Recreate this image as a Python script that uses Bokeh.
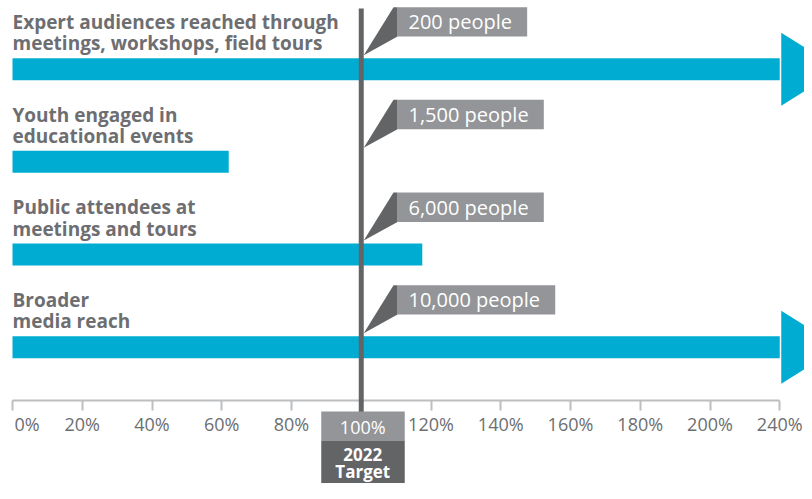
from bokeh.plotting import figure
from bokeh.models import Range1d, FixedTicker
from bokeh.embed import file_html
from bokeh.resources import INLINE
from bokeh.core.properties import value

# ---------------- data ----------------
categories = [
    "Expert audiences reached through\nmeetings, workshops, field tours",
    "Youth engaged in\neducational events",
    "Public attendees at\nmeetings and tours",
    "Broader\nmedia reach",
]
# percent of 2022 target reached, in axis units (the axis end, labelled 240%, sits at 220)
reach_pct = [220, 62, 117.5, 220]
beyond_axis = [True, False, False, True]
target_labels = ["200 people", "1,500 people", "6,000 people", "10,000 people"]
tick_values = [0, 20, 40, 60, 80, 100, 120, 140, 160, 180, 200, 220]
tick_texts = ["0%", "20%", "40%", "60%", "80%", "100%", "120%", "140%",
              "160%", "180%", "200%", "240%"]
target_pct = 100
target_title = ["2022", "Target"]

# ---------------- layout constants ----------------
W, H = 804, 483
PX_PER_PCT = 3.4875
X0_PX = 12.0
ROW_PX = 92.67
ROW0_PX = 68.7
TS = 5.5  # text baseline correction (px)

def dx(px):
    return px / PX_PER_PCT

def dy(px):
    return px / ROW_PX

def ypx(px):
    return (px - ROW0_PX) / ROW_PX

BAR = "#00acd1"
GREY_TXT = "#6d6e71"
BOX_LIGHT = "#939598"
BOX_DARK = "#636466"
FONT = "Open Sans"

p = figure(width=W, height=H, output_backend="svg", toolbar_location=None,
           x_range=Range1d(-dx(X0_PX), dx(W - X0_PX)),
           y_range=Range1d(ypx(H), ypx(0)),
           min_border=0, min_border_left=0, min_border_right=0,
           min_border_top=0, min_border_bottom=0)
p.outline_line_color = None
p.grid.visible = False
p.yaxis.visible = False
p.background_fill_color = "white"
p.border_fill_color = "white"

rows = list(range(len(categories)))

# bars
p.hbar(y=rows, left=0, right=reach_pct, height=dy(22), color=BAR, line_color=None)

# arrow heads for values beyond the axis
hx, hy = [], []
for r, v, b in zip(rows, reach_pct, beyond_axis):
    if b:
        hx.append([v + dx(1.5), v + dx(1.5), v + dx(60)])
        hy.append([r - dy(36.5), r + dy(36.5), r])
p.patches(hx, hy, color=BAR, line_color=None)

# category labels (two lines)
for r, c in zip(rows, categories):
    lines = c.split("\n")
    p.text(x=[0], y=[r - dy(41.8 + TS)], text=[lines[0]], text_font=value(FONT),
           text_font_style="bold", text_font_size="19px", text_color=GREY_TXT,
           text_baseline="alphabetic", text_align="left")
    if len(lines) > 1:
        p.text(x=[0], y=[r - dy(20.4 + TS)], text=[lines[1]], text_font=value(FONT),
               text_font_style="bold", text_font_size="19px", text_color=GREY_TXT,
               text_baseline="alphabetic", text_align="left")

# axis
ax = p.xaxis[0]
ax.fixed_location = ypx(400)
ax.bounds = (tick_values[0], tick_values[-1])
ax.ticker = FixedTicker(ticks=tick_values)
overrides = {}
for t, s in zip(tick_values, tick_texts):
    if t == target_pct:
        overrides[t] = ""
    elif t == tick_values[0]:
        overrides[t] = "\u00a0\u00a0\u00a0" + s
    else:
        overrides[t] = s
ax.major_label_overrides = overrides
ax.axis_line_color = "#bcbec0"
ax.axis_line_width = 2
ax.major_tick_line_color = "#bcbec0"
ax.major_tick_line_width = 2
ax.major_tick_in = 0
ax.major_tick_out = 10
ax.minor_tick_line_color = None
ax.major_label_text_font = FONT
ax.major_label_text_font_size = "18px"
ax.major_label_text_color = GREY_TXT
ax.major_label_standoff = 1

# callouts
char_w = {",": 0.26, " ": 0.26, "p": 0.613, "e": 0.561, "o": 0.601, "l": 0.258}
CALL_FS = 20
box_left = target_pct + dx(397 - 360.75)
for r, lab in zip(rows, target_labels):
    tw = sum(char_w.get(ch, 0.572) for ch in lab) * CALL_FS
    top = r - dy(62)
    bot = r - dy(32.6)
    p.quad(left=[box_left], right=[box_left + dx(tw + 26)], top=[top], bottom=[bot],
           color=BOX_LIGHT, line_color=None)
    p.patch([target_pct + dx(393 - 360.75), box_left, box_left, target_pct + dx(2.5)],
            [top, top, bot, r - dy(14)], color=BOX_DARK, line_color=None)
    p.text(x=[box_left + dx(11)], y=[r - dy(42 + TS)], text=[lab], text_font=value(FONT),
           text_font_size=f"{CALL_FS}px", text_color="white",
           text_baseline="alphabetic", text_align="left")

# target line and target box (drawn above the axis)
seg = p.segment(x0=[target_pct], x1=[target_pct], y0=[ypx(8)], y1=[ypx(412)],
                line_color=BOX_DARK, line_width=5)
seg.level = "overlay"
bl = target_pct - dx(40)
br = target_pct + dx(43.5)
q1 = p.quad(left=[bl], right=[br], top=[ypx(411)], bottom=[ypx(440)],
            color=BOX_LIGHT, line_color=None)
q1.level = "overlay"
q2 = p.quad(left=[bl], right=[br], top=[ypx(440)], bottom=[ypx(H + 5)],
            color=BOX_DARK, line_color=None)
q2.level = "overlay"
tx = target_pct + dx(1.5)
t1 = p.text(x=[tx], y=[ypx(432 - TS)], text=[f"{target_pct}%"],
            text_font=value(FONT), text_font_size="18px", text_color="white",
            text_align="center", text_baseline="alphabetic")
t1.level = "overlay"
t2 = p.text(x=[tx], y=[ypx(459 - TS)], text=[target_title[0]],
            text_font=value(FONT), text_font_style="bold", text_font_size="17px",
            text_color="white", text_align="center", text_baseline="alphabetic")
t2.level = "overlay"
t3 = p.text(x=[tx], y=[ypx(476.5 - TS)], text=[target_title[1]],
            text_font=value(FONT), text_font_style="bold", text_font_size="17px",
            text_color="white", text_align="center", text_baseline="alphabetic")
t3.level = "overlay"

open("out.html", "w").write(file_html(p, INLINE))
